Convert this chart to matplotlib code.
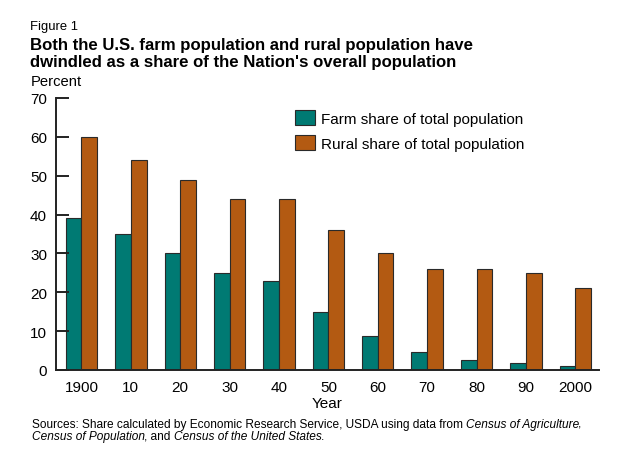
import matplotlib as mpl
mpl.use("Agg")
import matplotlib.pyplot as plt
import numpy as np

YEARS = ["1900", "10", "20", "30", "40", "50", "60", "70", "80", "90", "2000"]
FARM_SHARE = [39, 35, 30, 25, 23, 15, 8.7, 4.7, 2.5, 1.8, 1.0]
RURAL_SHARE = [60, 54, 49, 44, 44, 36, 30, 26, 26, 25, 21]

TEAL = "#007A73"
ORANGE = "#B35A12"
EDGE = "#2a2a2a"

W, H = 619, 464
LEFT = 30.5  # left edge of the text block, px

mpl.rcParams.update({
    "font.family": ["Liberation Sans", "DejaVu Sans"],
    "font.size": 10,
    "axes.linewidth": 1.4,
})

fig = plt.figure(figsize=(W / 100, H / 100), dpi=100)
ax = fig.add_axes((56 / W, 1 - 371 / H, 543 / W, (371 - 99) / H))

x = np.arange(len(YEARS))
bw = 0.318
ax.bar(x - bw / 2, FARM_SHARE, bw, color=TEAL, edgecolor=EDGE, lw=0.8,
       label="Farm share of total population")
ax.bar(x + bw / 2, RURAL_SHARE, bw, color=ORANGE, edgecolor=EDGE, lw=0.8,
       label="Rural share of total population")

ax.set_xlim(-0.515, 10.48)
ax.set_ylim(0, 70)
ax.set_yticks(np.arange(0, 80, 10))
ax.set_xticks(x)
ax.set_xticklabels(YEARS)
ax.tick_params(axis="y", direction="in", length=9.5, width=1.4,
               labelsize=11, pad=6.5, color="#222")
ax.tick_params(axis="x", length=0, labelsize=11, pad=7)
for s in ("top", "right"):
    ax.spines[s].set_visible(False)
for s in ("left", "bottom"):
    ax.spines[s].set_color("#222")

ax.set_xlabel("Year", fontsize=11, labelpad=2)

ax.legend(loc="upper left", bbox_to_anchor=(0.418, 1.0), frameon=False,
          fontsize=11, handlelength=1.3, handleheight=1.1,
          handletextpad=0.4, labelspacing=0.62, borderaxespad=0.4)

fig.text(LEFT / W, 1 - 27 / H, "Figure 1", fontsize=9.4, va="center")
fig.text(LEFT / W, 1 - 54 / H,
         "Both the U.S. farm population and rural population have\n"
         "dwindled as a share of the Nation's overall population",
         fontsize=12.1, fontweight="bold", va="center", linespacing=1.1)
fig.text(LEFT / W, 1 - 82 / H, "Percent", fontsize=10.6, va="center")

# source note mixes roman and italic runs
SOURCE_LINES = [
    [("Sources: Share calculated by Economic Research Service, USDA using data from ", "normal"),
     ("Census of Agriculture", "italic"), (",", "normal")],
    [("Census of Population", "italic"), (", and ", "normal"),
     ("Census of the United States", "italic"), (".", "normal")],
]
fig.canvas.draw()
r = fig.canvas.get_renderer()
for i, runs in enumerate(SOURCE_LINES):
    xpos = (LEFT + 1) / W
    for txt, style in runs:
        t = fig.text(xpos, 1 - (425 + 12 * i) / H, txt, fontsize=8.6,
                     style=style, va="center")
        w = t.get_window_extent(renderer=r).width
        if style == "italic":
            w -= 0.6
        xpos += w / W

fig.savefig("out.png", dpi=100)
